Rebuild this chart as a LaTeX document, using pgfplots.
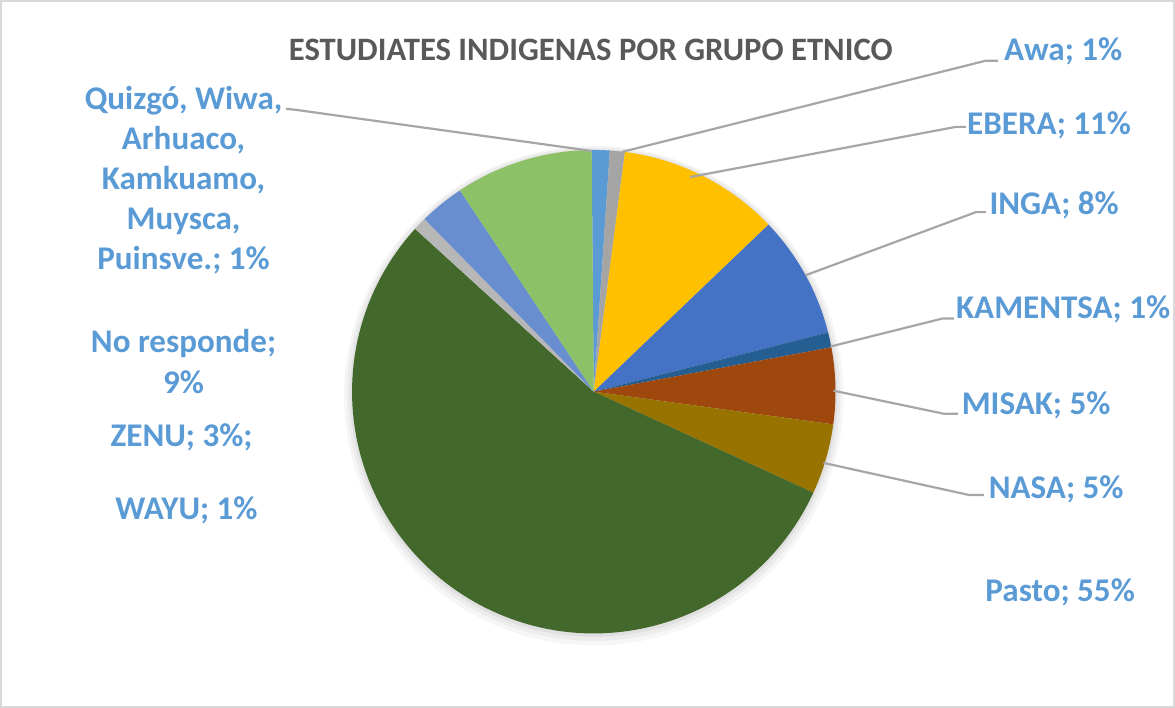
\documentclass[border=0pt]{standalone}
\usepackage{fontspec}
\setmainfont{Carlito}
\usepackage{pgfplots}
\usepackage{pgfplotstable}
\pgfplotsset{compat=1.18}

\definecolor{cQuiz}{HTML}{5B9BD5}
\definecolor{cAwa}{HTML}{A5A5A5}
\definecolor{cEbera}{HTML}{FFC000}
\definecolor{cInga}{HTML}{4472C4}
\definecolor{cKam}{HTML}{255E91}
\definecolor{cMisak}{HTML}{9E480E}
\definecolor{cNasa}{HTML}{997300}
\definecolor{cPasto}{HTML}{43682B}
\definecolor{cWayu}{HTML}{B7B7B7}
\definecolor{cZenu}{HTML}{698ED0}
\definecolor{cNoresp}{HTML}{8CC168}
\definecolor{lblblue}{HTML}{5B9BD5}
\definecolor{titlegray}{HTML}{595959}
\definecolor{leader}{HTML}{A6A6A6}
\definecolor{frame}{HTML}{D9D9D9}

\tikzset{
  lbl/.style={text=lblblue, font=\bfseries\fontsize{16.5}{20}\selectfont, align=center, inner sep=0pt},
  ldr/.style={color=leader, line width=1.1pt, solid, mark=none},
}

% percentages, clockwise from 12 o'clock
\pgfplotstableread[col sep=comma]{
name,val,col
Quizgo,1.2,cQuiz
Awa,1.0,cAwa
EBERA,10.8,cEbera
INGA,8.2,cInga
KAMENTSA,1.0,cKam
MISAK,5.1,cMisak
NASA,4.7,cNasa
Pasto,54.9,cPasto
WAYU,0.9,cWayu
ZENU,3.0,cZenu
NoResponde,9.2,cNoresp
}\pietab

\begin{document}
\begin{tikzpicture}
\begin{axis}[
    scale only axis,
    width=587.5pt, height=353.5pt,
    xmin=0, xmax=1175, ymin=0, ymax=707,
    y dir=reverse,
    hide axis,
    clip=false,
]
% frame
\draw[frame, line width=1pt] (axis cs:3,1.5) rectangle (axis cs:1172.5,705);

% soft shadow
\fill[black, opacity=0.035] (axis cs:594,395) circle[radius=124.5pt];
\fill[black, opacity=0.04] (axis cs:594,393.5) circle[radius=123pt];
\fill[black, opacity=0.05] (axis cs:594,392.5) circle[radius=121.5pt];

% slices
\xdef\curang{90.5}
\pgfplotsinvokeforeach{0,...,10}{
  \pgfplotstablegetelem{#1}{val}\of\pietab
  \pgfmathsetmacro\angB{\curang-3.6*\pgfplotsretval}
  \pgfplotstablegetelem{#1}{col}\of\pietab
  \edef\slice{\noexpand\fill[\pgfplotsretval] (axis cs:594,391) -- ++(\curang:120.5pt)
     arc[start angle=\curang, end angle=\angB, radius=120.5pt] -- cycle;}
  \slice
  \xdef\curang{\angB}
}

% leader lines
\addplot[ldr] coordinates {(287,109) (297,110) (592,151)};
\addplot[ldr] coordinates {(622,152) (985,61) (997,61)};
\addplot[ldr] coordinates {(690,177) (955,127) (965,127)};
\addplot[ldr] coordinates {(805,275) (975,212) (985,212)};
\addplot[ldr] coordinates {(830,346) (942,318) (953,318)};
\addplot[ldr] coordinates {(833,390) (943,413) (957,413)};
\addplot[ldr] coordinates {(823,462) (968,494) (983,494)};

% title
\node[text=titlegray, font=\bfseries\fontsize{16.3}{18}\selectfont] at (axis cs:591,50) {ESTUDIATES INDIGENAS POR GRUPO ETNICO};

% labels
\node[lbl] at (axis cs:1062,52) {Awa; 1\%};
\node[lbl] at (axis cs:1048,125) {EBERA; 11\%};
\node[lbl] at (axis cs:1053,205) {INGA; 8\%};
\node[lbl] at (axis cs:1062,309) {KAMENTSA; 1\%};
\node[lbl] at (axis cs:1035,405) {MISAK; 5\%};
\node[lbl] at (axis cs:1055,488) {NASA; 5\%};
\node[lbl] at (axis cs:1059,591) {Pasto; 55\%};
\node[lbl] at (axis cs:185,180) {Quizgó, Wiwa,\\Arhuaco,\\Kamkuamo,\\Muysca,\\Puinsve.; 1\%};
\node[lbl] at (axis cs:185,361) {No responde;\\9\%};
\node[lbl] at (axis cs:183,437) {ZENU; 3\%;};
\node[lbl] at (axis cs:188,509) {WAYU; 1\%};
\end{axis}
\end{tikzpicture}
\end{document}
